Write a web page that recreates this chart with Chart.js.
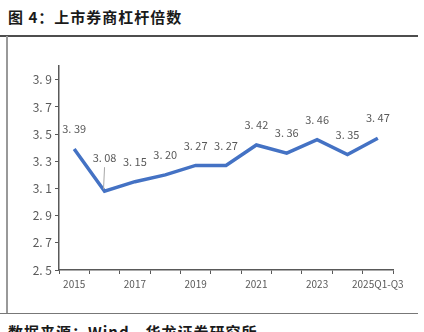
<!DOCTYPE html>
<html>
<head>
<meta charset="utf-8">
<script src="https://cdn.jsdelivr.net/npm/chart.js@4"></script>
<style>
  html, body { margin: 0; padding: 0; background: #fff; }
  body { width: 424px; height: 332px; position: relative; overflow: hidden; }
  .title {
    position: absolute; left: 8px; top: 6px;
    font: bold 15px "Noto Sans CJK SC", sans-serif; color: #1a1a1a; letter-spacing: 1px;
  }
  .rule-top { position: absolute; left: 0; top: 35px; width: 418px; height: 1.5px; background: #4d4d4d; }
  .rule-left { position: absolute; left: 6px; top: 36px; width: 1.5px; height: 277px; background: #999; }
  .rule-bottom { position: absolute; left: 0; top: 313px; width: 418px; height: 1px; background: #777; }
  .source {
    position: absolute; left: 8px; top: 321px;
    font: bold 15px "Noto Sans CJK SC", sans-serif; color: #1a1a1a; letter-spacing: 1px;
  }
  #wrap { position: absolute; left: 10px; top: 56px; width: 400px; height: 250px; }
</style>
</head>
<body>
<div class="title">图 4：上市券商杠杆倍数</div>
<div class="rule-top"></div>
<div class="rule-left"></div>
<div class="rule-bottom"></div>
<div class="source">数据来源：Wind，华龙证券研究所</div>
<div id="wrap"><canvas id="leverage"></canvas></div>
<script>
// 上市券商杠杆倍数（年度，2025 为前三季度）
const periods = ['2015', '2016', '2017', '2018', '2019', '2020', '2021', '2022', '2023', '2024', '2025Q1-Q3'];
const leverage = [3.39, 3.08, 3.15, 3.20, 3.27, 3.27, 3.42, 3.36, 3.46, 3.35, 3.47];
const yTicks = [2.5, 2.7, 2.9, 3.1, 3.3, 3.5, 3.7, 3.9];

const LINE_BLUE = '#4472C4';
const AXIS_GREY = '#595959';
const TEXT_GREY = '#595959';

// writes the value above each point; index 1 sits higher with a leader line
const valueLabels = {
  id: 'valueLabels',
  afterDatasetsDraw(chart) {
    const ctx = chart.ctx;
    const meta = chart.getDatasetMeta(0);
    const values = chart.data.datasets[0].data;
    ctx.save();
    ctx.font = '11px "Noto Sans CJK SC", sans-serif';
    ctx.fillStyle = TEXT_GREY;
    ctx.textAlign = 'center';
    ctx.textBaseline = 'middle';
    meta.data.forEach((pt, i) => {
      const lifted = i === 1;
      const dy = lifted ? 33 : 20;
      ctx.fillText(values[i].toFixed(2).replace('.', '. '), pt.x, pt.y - dy);
      if (lifted) {
        ctx.strokeStyle = '#a6a6a6';
        ctx.lineWidth = 1;
        ctx.beginPath();
        ctx.moveTo(pt.x - 1, pt.y - 2);
        ctx.lineTo(pt.x, pt.y - 24);
        ctx.stroke();
      }
    });
    ctx.restore();
  }
};

new Chart(document.getElementById('leverage'), {
  type: 'line',
  data: {
    labels: periods,
    datasets: [{
      data: leverage,
      borderColor: LINE_BLUE,
      borderWidth: 3.5,
      pointRadius: 0,
      tension: 0,
      borderJoinStyle: 'miter'
    }]
  },
  options: {
    responsive: true,
    maintainAspectRatio: false,
    animation: false,
    layout: { padding: { top: 10, right: 17, bottom: 0, left: 0 } },
    plugins: { legend: { display: false }, tooltip: { enabled: false } },
    scales: {
      x: {
        offset: true,
        grid: { drawOnChartArea: false, offset: true, tickLength: 4, color: AXIS_GREY, lineWidth: 1 },
        border: { color: AXIS_GREY, width: 1.5 },
        afterFit(scale) { scale.height = 36; },
        ticks: {
          autoSkip: false,
          maxRotation: 0,
          padding: 4,
          color: TEXT_GREY,
          font: { family: '"Noto Sans CJK SC", sans-serif', size: 10 },
          callback(v, i) { return i % 2 === 0 ? periods[i] : ''; }
        }
      },
      y: {
        min: 2.5,
        max: 4.0,
        grid: { drawOnChartArea: false, tickLength: 4, color: AXIS_GREY, lineWidth: 1 },
        border: { color: AXIS_GREY, width: 1.5 },
        afterFit(scale) { scale.width = 49; },
        afterBuildTicks(scale) { scale.ticks = yTicks.map(v => ({ value: v })); },
        ticks: {
          padding: 3,
          color: TEXT_GREY,
          font: { family: '"Noto Sans CJK SC", sans-serif', size: 12 },
          callback(v) { return v.toFixed(1).replace('.', '. '); }
        }
      }
    }
  },
  plugins: [valueLabels]
});
</script>
</body>
</html>
